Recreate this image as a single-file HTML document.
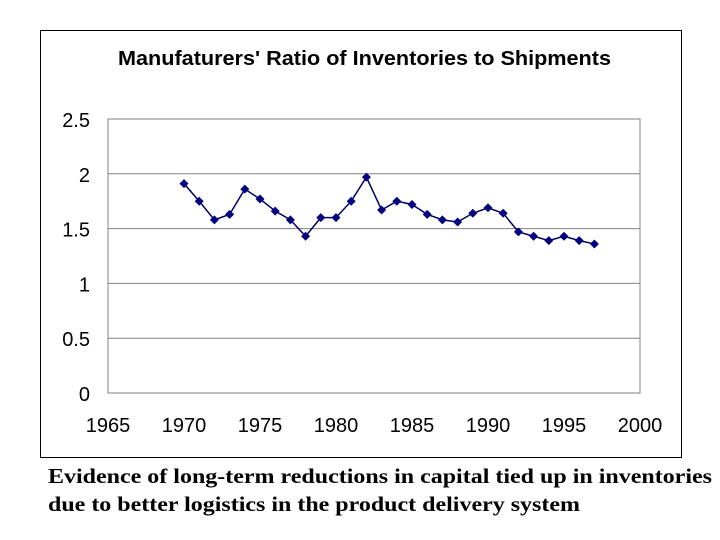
<!DOCTYPE html>
<html><head><meta charset="utf-8"><style>
body{margin:0;background:#fff;width:720px;height:540px;overflow:hidden}
svg{display:block}
</style></head><body>
<svg id="c" width="720" height="540" font-family="Liberation Sans, Arial, sans-serif">
<rect x="40.5" y="30.5" width="641" height="427" fill="#fff" stroke="#000" stroke-width="1"/>
<text x="118" y="65" font-size="20" font-weight="bold" textLength="493" lengthAdjust="spacingAndGlyphs">Manufaturers' Ratio of Inventories to Shipments</text>
<g id="grid"></g>
<rect x="108" y="119" width="532" height="274" fill="none" stroke="#808080"/>
<g id="ticks"></g>
<g id="series"></g>
<text x="48" y="483" font-family="Liberation Serif, Times New Roman, serif" font-size="21" font-weight="bold" textLength="664" lengthAdjust="spacingAndGlyphs">Evidence of long-term reductions in capital tied up in inventories</text>
<text x="48" y="511" font-family="Liberation Serif, Times New Roman, serif" font-size="21" font-weight="bold" textLength="532" lengthAdjust="spacingAndGlyphs">due to better logistics in the product delivery system</text>
</svg>
<script>
const years=[1970,1971,1972,1973,1974,1975,1976,1977,1978,1979,1980,1981,1982,1983,1984,1985,1986,1987,1988,1989,1990,1991,1992,1993,1994,1995,1996,1997];
const ratios=[1.91,1.75,1.58,1.63,1.86,1.77,1.66,1.58,1.43,1.60,1.60,1.75,1.97,1.67,1.75,1.72,1.63,1.58,1.56,1.64,1.69,1.64,1.47,1.43,1.39,1.43,1.39,1.36];
const yTicks=[0,0.5,1,1.5,2,2.5];
const yTickLabels=["0","0.5","1","1.5","2","2.5"];
const xTicks=[1965,1970,1975,1980,1985,1990,1995,2000];
const NS='http://www.w3.org/2000/svg';
const X0=108,X1=640,Y0=393,Y1=119;
const xs=v=>X0+(v-1965)/35*(X1-X0);
const ys=v=>Y0-v/2.5*(Y0-Y1);
function mk(t,a,p){const e=document.createElementNS(NS,t);for(const k in a)e.setAttribute(k,a[k]);p.appendChild(e);return e;}
const grid=document.getElementById('grid'),ticks=document.getElementById('ticks'),ser=document.getElementById('series');
yTicks.forEach((v,i)=>{
 if(v>0&&v<2.5){const l=mk('line',{x1:X0,x2:X1,y1:ys(v),y2:ys(v),stroke:'#808080','stroke-width':1},grid);
 
 }
 const t=mk('text',{x:90,y:ys(v)+8,'text-anchor':'end','font-size':20},ticks);t.textContent=yTickLabels[i];
 
 
});
xTicks.forEach(v=>{
 const t=mk('text',{x:xs(v),y:432,'text-anchor':'middle','font-size':20},ticks);t.textContent=v;
 
 
});
const pl=mk('polyline',{points:years.map((y,i)=>xs(y)+','+ys(ratios[i])).join(' '),fill:'none',stroke:'#000066','stroke-width':1.5},ser);


years.forEach((y,i)=>{
 const cx=xs(y),cy=ys(ratios[i]);
 const m=mk('polygon',{points:`${cx},${cy-4.5} ${cx+4.5},${cy} ${cx},${cy+4.5} ${cx-4.5},${cy}`,fill:'#000080'},ser);
 
 
});
</script>
</body></html>
